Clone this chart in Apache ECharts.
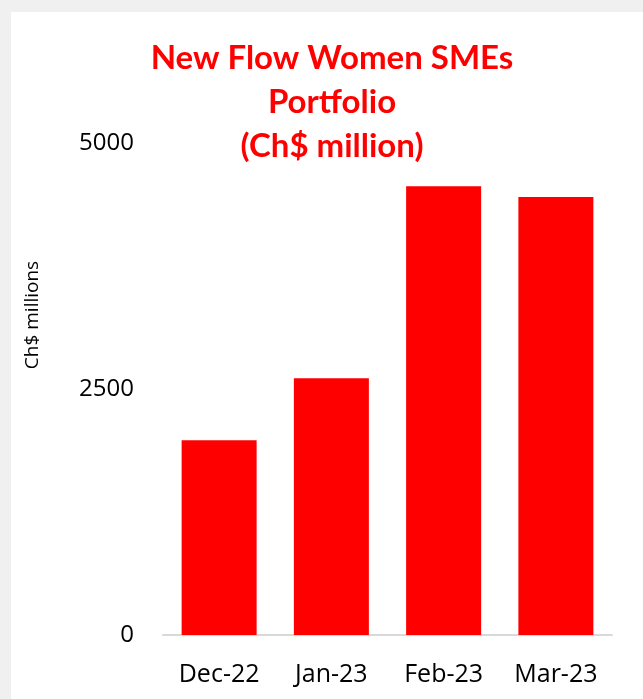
<!DOCTYPE html>
<html>
<head>
<meta charset="utf-8">
<script src="https://cdn.jsdelivr.net/npm/echarts@6/dist/echarts.min.js"></script>
<style>
  html, body { margin: 0; padding: 0; background: #f0f0f0; }
  #chart {
    position: absolute;
    left: 11px;
    top: 12px;
    width: 632px;
    height: 687px;
    background: #fff;
  }
</style>
</head>
<body>
<div id="chart"></div>
<script>
const categories = ["Dec-22", "Jan-23", "Feb-23", "Mar-23"];
const portfolio = [1980, 2610, 4560, 4450];
const titleLines = ["New Flow Women SMEs", "Portfolio", "(Ch$ million)"];
const axisName = "Ch$ millions";

const chart = echarts.init(document.getElementById("chart"));

chart.setOption({
  animation: false,
  title: {
    text: titleLines.join("\n"),
    left: 321,
    top: 24,
    padding: 0,
    textAlign: "center",
    textStyle: {
      fontFamily: "Lato",
      fontWeight: "bold",
      fontSize: 33,
      lineHeight: 44,
      color: "#ff0000",
    },
  },
  grid: { left: 152, right: 31, top: 131, bottom: 64 },
  xAxis: {
    type: "category",
    data: categories,
    axisLine: { lineStyle: { color: "#d9d9d9", width: 2 } },
    axisTick: { show: false },
    axisLabel: {
      margin: 27,
      fontFamily: "Open Sans",
      fontSize: 25,
      color: "#000",
    },
  },
  yAxis: {
    type: "value",
    min: 0,
    max: 5000,
    interval: 2500,
    splitLine: { show: false },
    axisLine: { show: false },
    axisLabel: {
      margin: 29,
      fontFamily: "Open Sans",
      fontSize: 24,
      color: "#000",
      formatter: (v) => String(v),
    },
  },
  graphic: [
    {
      type: "text",
      x: 22,
      y: 303,
      rotation: Math.PI / 2,
      style: {
        text: axisName,
        fontFamily: "Open Sans",
        fontSize: 19,
        fill: "#000",
        align: "center",
        verticalAlign: "middle",
      },
    },
  ],
  series: [
    {
      type: "bar",
      data: portfolio,
      barWidth: 75,
      itemStyle: { color: "#ff0000" },
    },
  ],
});
</script>
</body>
</html>
